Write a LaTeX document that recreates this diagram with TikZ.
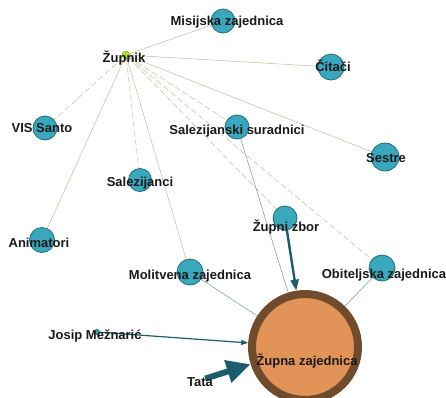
\documentclass[tikz,border=0pt]{standalone}
\usepackage{fontspec}
\setmainfont{Liberation Sans}
\usetikzlibrary{arrows.meta,backgrounds}
\definecolor{edgetan}{RGB}{196,188,150}
\definecolor{edgeblue}{RGB}{112,152,172}
\definecolor{nodeteal}{RGB}{58,168,188}
\definecolor{nodeborder}{RGB}{34,108,122}
\definecolor{arrowteal}{RGB}{28,92,108}
\definecolor{hubfill}{RGB}{226,148,88}
\definecolor{hubring}{RGB}{112,76,44}
\definecolor{zgreen}{RGB}{170,222,40}
\begin{document}
\begin{tikzpicture}[x=1pt,y=-1pt,
  vertex/.style={circle,fill=nodeteal,draw=nodeborder,line width=0.8pt,inner sep=0pt,minimum size=#1},
  vertex/.default=24pt,
  lbl/.style={font=\fontsize{13}{15}\selectfont\bfseries,text=black!90,anchor=base,inner sep=0pt},
  tanline/.style={draw=edgetan,line width=0.5pt},
  tandash/.style={tanline,dash pattern=on 6pt off 3pt},
  blueline/.style={draw=edgeblue,line width=0.5pt},
  arrowline/.style={draw=arrowteal,line width=#1},
]
\useasboundingbox (0,0) rectangle (446,397);
\clip (0,0) rectangle (446,397);

% vertices
\node[circle,fill=zgreen,draw=zgreen!70!black,line width=0.3pt,inner sep=0pt,minimum size=8pt] (zupnik) at (126,55) {};
\node[vertex=24pt] (misijska) at (223,21) {};
\node[vertex=26pt] (citaci) at (331,67) {};
\node[vertex=24pt] (vis) at (45,128) {};
\node[vertex=24pt] (salsur) at (237,127) {};
\node[vertex=28pt] (sestre) at (385,157) {};
\node[vertex=23pt] (salezijanci) at (140,180) {};
\node[vertex=25pt] (animatori) at (42,240) {};
\node[vertex=24pt] (zbor) at (285,218) {};
\node[vertex=26pt] (molitvena) at (190,272) {};
\node[vertex=26pt] (obiteljska) at (382,268) {};
\node[vertex=5pt] (josip) at (97,332) {};
\node[circle,inner sep=0pt,minimum size=2pt] (tata) at (204,379) {};
\node[circle,fill=hubfill,draw=hubring,line width=8pt,inner sep=0pt,minimum size=106pt] (zupna) at (305,347) {};

% edges
\begin{pgfonlayer}{background}
\fill[white] (0,0) rectangle (446,397);
\draw[tanline] (zupnik) -- (misijska);
\draw[tanline] (zupnik) -- (citaci);
\draw[tandash] (zupnik) -- (vis);
\draw[tandash] (zupnik) -- (salsur);
\draw[tanline] (zupnik) -- (sestre);
\draw[tandash] (zupnik) -- (salezijanci);
\draw[tanline] (zupnik) -- (animatori);
\draw[tanline] (zupnik) -- (molitvena);
\draw[tandash] (zupnik) -- (zbor);
\draw[tandash] (zupnik) -- (obiteljska);
\draw[blueline] (salsur) -- (zupna);
\draw[blueline] (molitvena) -- (zupna);
\draw[blueline] (obiteljska) -- (zupna);
\end{pgfonlayer}
\draw[arrowline=1.2pt,-{Triangle[length=7pt,width=5pt]}] (josip) -- (zupna);
\draw[arrowline=2.4pt,-{Triangle[length=11pt,width=8pt]}] (zbor) -- (zupna);
\draw[arrowline=6pt,-{Triangle[length=24pt,width=22pt]}] (tata) -- (zupna);

% labels
\node[lbl] (l-misijska) at (227,25) {Misijska zajednica};
\node[lbl] (l-zupnik) at (124,62) {Župnik};
\node[lbl] (l-citaci) at (333,71) {Čitači};
\node[lbl] (l-vis) at (42,132) {VIS Santo};
\node[lbl] (l-salsur) at (237,134) {Salezijanski suradnici};
\node[lbl] (l-sestre) at (386,162) {Sestre};
\node[lbl] (l-salezijanci) at (140,186) {Salezijanci};
\node[lbl] (l-animatori) at (39,247) {Animatori};
\node[lbl] (l-zbor) at (286,231) {Župni zbor};
\node[lbl] (l-molitvena) at (190,279) {Molitvena zajednica};
\node[lbl] (l-obiteljska) at (384,278) {Obiteljska zajednica};
\node[lbl] (l-josip) at (95,339) {Josip Mežnarić};
\node[lbl] (l-tata) at (200,386) {Tata};
\node[lbl] (l-zupna) at (307,365) {Župna zajednica};
\end{tikzpicture}
\end{document}
